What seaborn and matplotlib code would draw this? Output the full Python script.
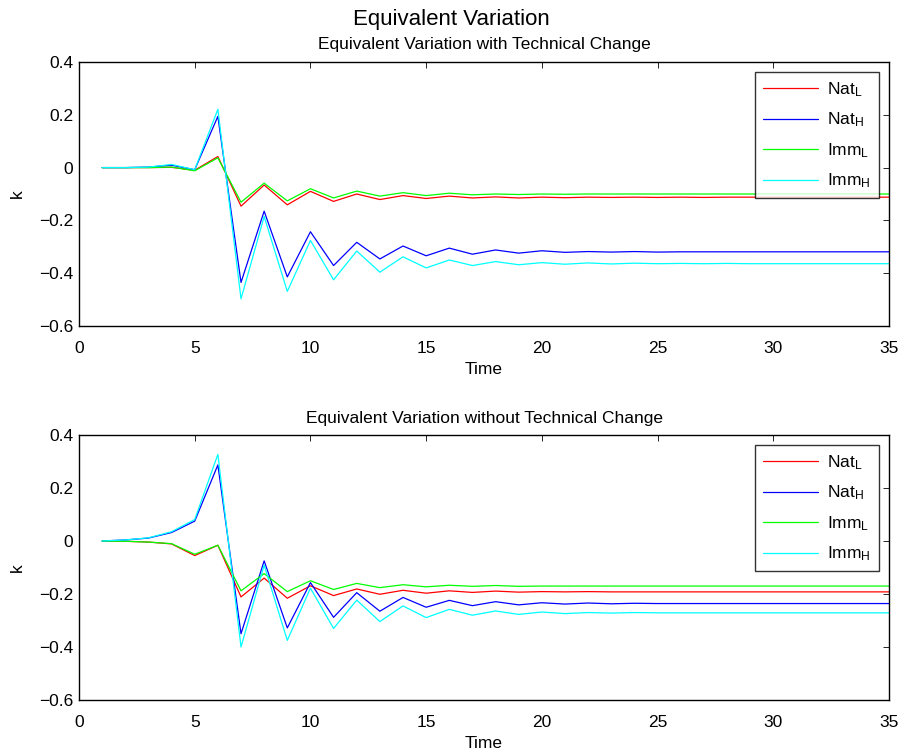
import numpy as np
import pandas as pd
import matplotlib
matplotlib.use("Agg")
import matplotlib.pyplot as plt
import seaborn as sns

# Data (period 1..35)
time = list(range(1, 36))
series_names = [r"Nat$_L$", r"Nat$_H$", r"Imm$_L$", r"Imm$_H$"]
series_colors = ["#ff0000", "#0000ff", "#00ff00", "#00ffff"]

# With technical change
tc_nat_L = [0.0, 0.0, 0.0, 0.001, -0.010, 0.042, -0.146, -0.066, -0.141, -0.090,
            -0.128, -0.100, -0.121, -0.106, -0.117, -0.108, -0.115, -0.111, -0.115, -0.112,
            -0.114, -0.112, -0.113, -0.112, -0.113, -0.112, -0.113, -0.112, -0.112, -0.112,
            -0.112, -0.112, -0.112, -0.112, -0.112]
tc_nat_H = [0.0, 0.0, 0.002, 0.009, -0.008, 0.194, -0.435, -0.165, -0.414, -0.243,
            -0.371, -0.283, -0.346, -0.297, -0.334, -0.305, -0.328, -0.312, -0.324, -0.315,
            -0.321, -0.318, -0.320, -0.318, -0.320, -0.319, -0.319, -0.319, -0.319, -0.319,
            -0.319, -0.319, -0.319, -0.319, -0.319]
tc_imm_L = [0.0, 0.0, 0.0, 0.002, -0.012, 0.037, -0.131, -0.059, -0.126, -0.080,
            -0.115, -0.089, -0.108, -0.095, -0.106, -0.097, -0.103, -0.100, -0.102, -0.100,
            -0.101, -0.100, -0.100, -0.100, -0.100, -0.100, -0.100, -0.100, -0.100, -0.100,
            -0.100, -0.100, -0.100, -0.100, -0.100]
tc_imm_H = [0.0, 0.0, 0.002, 0.012, -0.008, 0.221, -0.497, -0.185, -0.469, -0.276,
            -0.425, -0.316, -0.396, -0.338, -0.380, -0.350, -0.371, -0.356, -0.368, -0.360,
            -0.366, -0.361, -0.365, -0.362, -0.364, -0.363, -0.364, -0.363, -0.364, -0.364,
            -0.364, -0.364, -0.364, -0.364, -0.364]

# Without technical change
nt_nat_L = [0.0, -0.001, -0.004, -0.011, -0.055, -0.016, -0.211, -0.140, -0.216, -0.169,
            -0.206, -0.181, -0.201, -0.186, -0.197, -0.188, -0.194, -0.189, -0.193, -0.191,
            -0.192, -0.191, -0.192, -0.192, -0.192, -0.192, -0.192, -0.192, -0.192, -0.192,
            -0.192, -0.192, -0.192, -0.192, -0.192]
nt_nat_H = [0.0, 0.004, 0.011, 0.032, 0.075, 0.287, -0.350, -0.075, -0.328, -0.157,
            -0.288, -0.195, -0.265, -0.213, -0.250, -0.224, -0.244, -0.229, -0.241, -0.233,
            -0.238, -0.234, -0.237, -0.235, -0.236, -0.236, -0.236, -0.236, -0.236, -0.236,
            -0.236, -0.236, -0.236, -0.236, -0.236]
nt_imm_L = [0.0, -0.001, -0.004, -0.010, -0.050, -0.016, -0.188, -0.123, -0.191, -0.150,
            -0.183, -0.160, -0.176, -0.165, -0.173, -0.167, -0.171, -0.168, -0.171, -0.170,
            -0.170, -0.170, -0.170, -0.170, -0.170, -0.170, -0.170, -0.170, -0.170, -0.170,
            -0.170, -0.170, -0.170, -0.170, -0.170]
nt_imm_H = [0.0, 0.004, 0.012, 0.035, 0.081, 0.327, -0.400, -0.091, -0.375, -0.178,
            -0.330, -0.223, -0.304, -0.245, -0.289, -0.258, -0.280, -0.264, -0.277, -0.268,
            -0.274, -0.270, -0.272, -0.270, -0.271, -0.271, -0.271, -0.271, -0.271, -0.271,
            -0.271, -0.271, -0.271, -0.271, -0.271]

xticks = [0, 5, 10, 15, 20, 25, 30, 35]
yticks = [-0.6, -0.4, -0.2, 0, 0.2, 0.4]
ytick_labels = ["\u22120.6", "\u22120.4", "\u22120.2", "0", "0.2", "0.4"]

sns.set_style("white", {"xtick.direction": "in", "ytick.direction": "in",
                        "axes.edgecolor": "black"})
plt.rcParams["font.family"] = ["Liberation Sans", "DejaVu Sans"]
plt.rcParams["mathtext.fontset"] = "custom"
plt.rcParams["mathtext.rm"] = "Liberation Sans"
plt.rcParams["mathtext.it"] = "Liberation Sans"
plt.rcParams["mathtext.default"] = "regular"
plt.rcParams["text.color"] = "black"
plt.rcParams["axes.labelcolor"] = "black"


def long_df(cols):
    frames = []
    for name, vals in zip(series_names, cols):
        frames.append(pd.DataFrame({"Time": time, "k": vals, "series": name}))
    return pd.concat(frames, ignore_index=True)


fig = plt.figure(figsize=(9.03, 7.51), dpi=100)
# axes boxes in figure fractions (top panel 62..326 px, bottom 435..700 px)
ax1 = fig.add_axes([0.0875, 1 - 326 / 751, 0.897, 264 / 751])
ax2 = fig.add_axes([0.0875, 1 - 700 / 751, 0.897, 265 / 751])

panels = [
    (ax1, [tc_nat_L, tc_nat_H, tc_imm_L, tc_imm_H], "Equivalent Variation with Technical Change"),
    (ax2, [nt_nat_L, nt_nat_H, nt_imm_L, nt_imm_H], "Equivalent Variation without Technical Change"),
]

for ax, cols, title in panels:
    df = long_df(cols)
    sns.lineplot(data=df, x="Time", y="k", hue="series", hue_order=series_names,
                 palette=series_colors, linewidth=0.9, ax=ax)
    ax.set_xlim(0, 35)
    ax.set_ylim(-0.6, 0.4)
    ax.set_xticks(xticks)
    ax.set_yticks(yticks)
    ax.set_xticklabels([str(v) for v in xticks])
    ax.set_yticklabels(ytick_labels)
    ax.tick_params(direction="in", top=True, right=True, length=4, width=0.6,
                   labelsize=12.5, colors="black")
    ax.tick_params(axis="x", pad=11)
    ax.tick_params(axis="y", pad=4)
    for sp in ax.spines.values():
        sp.set_linewidth(1.0)
    ax.set_xlabel("Time", fontsize=12.5, labelpad=4)
    ax.set_ylabel("k", fontsize=12.5, labelpad=10)
    ax.set_title(title, fontsize=12.5, pad=9, color="black")
    handles, labels = ax.get_legend_handles_labels()
    leg = ax.legend(handles, labels, loc="upper right", fontsize=12.5, handlelength=3.2,
                    labelspacing=0.68, borderaxespad=0.6, frameon=True, fancybox=False,
                    borderpad=0.45, handletextpad=0.5)
    leg.get_frame().set_edgecolor("black")
    leg.get_frame().set_linewidth(1.0)

fig.text(0.5, 1 - 20 / 751, "Equivalent Variation", ha="center", va="center", fontsize=16)

fig.savefig("out.png", dpi=100)
